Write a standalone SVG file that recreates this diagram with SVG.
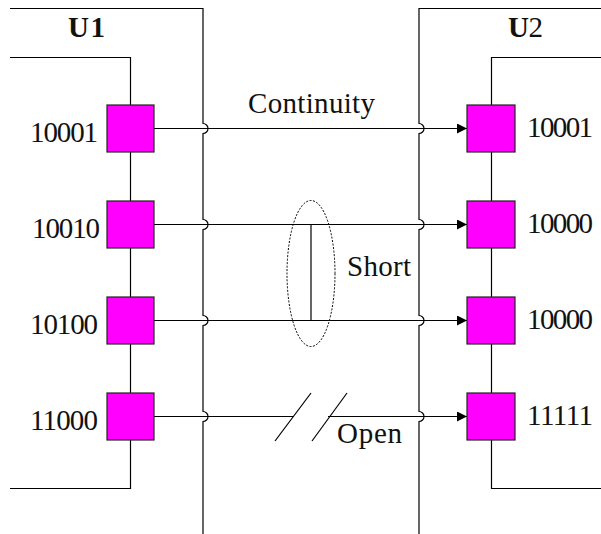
<svg xmlns="http://www.w3.org/2000/svg" width="601" height="534" viewBox="0 0 601 534">
<style>
.ln{fill:none;stroke:#000;stroke-width:1.2}
.box{fill:#FF00FF;stroke:#222;stroke-width:1.2}
text{font-family:"Liberation Serif","Times New Roman",serif;font-size:29px;fill:#111}
.dot{fill:none;stroke:#000;stroke-width:1;stroke-dasharray:2 1.5}
</style>
<defs>
<marker id="arr" markerWidth="10" markerHeight="10" refX="10" refY="5" orient="auto" markerUnits="userSpaceOnUse">
<path d="M0,0 L10,5 L0,10 Z" fill="#000"/>
</marker>
</defs>
<g id="U1">
<path class="ln" d="M10,8.5 H203 V123.5 A5,5 0 0 1 203,133.5 V219.5 A5,5 0 0 1 203,229.5 V315.5 A5,5 0 0 1 203,325.5 V411.5 A5,5 0 0 1 203,421.5 V534"/>
<path class="ln" d="M10,57.5 H130.5 V488.5 H10"/>
<text x="68" y="37" font-weight="bold" textLength="37">U1</text>
</g>
<g id="U2">
<path class="ln" d="M601,8.5 H419 V123.5 A5,5 0 0 1 419,133.5 V219.5 A5,5 0 0 1 419,229.5 V315.5 A5,5 0 0 1 419,325.5 V411.5 A5,5 0 0 1 419,421.5 V534"/>
<path class="ln" d="M601,57.5 H491.5 V488.5 H601"/>
<text x="508" y="37" textLength="35"><tspan font-weight="bold">U</tspan>2</text>
</g>
<g id="connectors">
<line class="ln" x1="154" y1="128.5" x2="467" y2="128.5" marker-end="url(#arr)"/>
<line class="ln" x1="154" y1="224.5" x2="467" y2="224.5" marker-end="url(#arr)"/>
<line class="ln" x1="154" y1="320.5" x2="467" y2="320.5" marker-end="url(#arr)"/>
<line class="ln" x1="154" y1="416.5" x2="293" y2="416.5"/>
<line class="ln" x1="328" y1="416.5" x2="467" y2="416.5" marker-end="url(#arr)"/>
<line class="ln" x1="275" y1="441" x2="311" y2="393"/>
<line class="ln" x1="312" y1="441" x2="347" y2="393"/>
<line class="ln" x1="311" y1="224.5" x2="311" y2="320.5"/>
<ellipse class="dot" cx="311" cy="273.5" rx="24" ry="73"/>
</g>
<g id="labels">
<text x="248" y="113" textLength="127">Continuity</text>
<text x="347" y="276" textLength="64">Short</text>
<text x="337" y="443" textLength="65">Open</text>
</g>
<g id="L1"><rect class="box" x="107" y="105" width="47" height="47"/><text x="30" y="142" textLength="68">10001</text></g>
<g id="L2"><rect class="box" x="107" y="201" width="47" height="47"/><text x="32" y="238" textLength="68">10010</text></g>
<g id="L3"><rect class="box" x="107" y="297" width="47" height="47"/><text x="30" y="334" textLength="68">10100</text></g>
<g id="L4"><rect class="box" x="107" y="393" width="47" height="47"/><text x="30" y="430" textLength="68">11000</text></g>
<g id="R1"><rect class="box" x="467" y="105" width="48" height="47"/><text x="527" y="137" textLength="66">10001</text></g>
<g id="R2"><rect class="box" x="467" y="201" width="48" height="47"/><text x="527" y="233" textLength="66">10000</text></g>
<g id="R3"><rect class="box" x="467" y="297" width="48" height="47"/><text x="527" y="329" textLength="66">10000</text></g>
<g id="R4"><rect class="box" x="467" y="393" width="48" height="47"/><text x="527" y="425" textLength="66">11111</text></g>
</svg>
